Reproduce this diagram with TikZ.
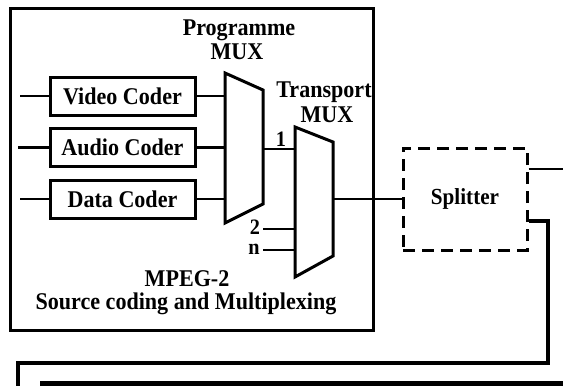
\documentclass[tikz,border=0pt]{standalone}
\usepackage{fontspec}
\setmainfont{Liberation Serif}
\newfontfamily\heavyserif{Liberation Serif}[UprightFont={* Bold},FakeStretch=0.92]
\begin{document}
\begin{tikzpicture}[x=1pt,y=-1pt,line join=miter,
  lbl/.style={font=\fontsize{24}{20}\selectfont\heavyserif,inner sep=0pt},
  num/.style={font=\fontsize{22}{20}\selectfont\heavyserif,inner sep=0pt},
  coder/.style={draw,line width=3pt,minimum width=145pt,minimum height=38pt,inner sep=0pt,font=\fontsize{24}{20}\selectfont\heavyserif},
  muxshape/.style={line width=3pt},
  wire/.style={line width=2.8pt},
  thinwire/.style={line width=1.8pt},
  heavy/.style={line width=4.4pt},
  splitbox/.style={draw,line width=3pt,dash pattern=on 12pt off 7pt,minimum width=124pt,minimum height=102pt,inner sep=0pt,font=\fontsize{23}{20}\selectfont\heavyserif}]
\useasboundingbox (0,0) rectangle (563,386);
% outer frame
\node[draw,line width=3pt,minimum width=363pt,minimum height=322pt,inner sep=0pt] (frame) at (191.5,169) {};
% coders
\node[coder] (video) at (122.5,96) {Video Coder};
\node[coder] (audio) at (122.5,147.5) {Audio Coder};
\node[coder] (data) at (122.5,199) {Data Coder};
\coordinate (vin) at (20,96);
\coordinate (ain) at (18,147.5);
\coordinate (din) at (20,199);
\draw[wire] (vin) -- (video.west);
\draw[wire] (ain) -- (audio.west);
\draw[thinwire] (din) -- (data.west);
% programme mux
\coordinate (pm1) at (225,73);
\coordinate (pm2) at (263,90);
\coordinate (pm3) at (263,204);
\coordinate (pm4) at (225,223);
\draw[muxshape] (pm1) -- (pm2) -- (pm3) -- (pm4) -- cycle;
\draw[wire] (video.east) -- (video.east -| pm1);
\draw[wire] (audio.east) -- (audio.east -| pm1);
\draw[thinwire] (data.east) -- (data.east -| pm1);
% transport mux
\coordinate (tm1) at (295,127);
\coordinate (tm2) at (333,142);
\coordinate (tm3) at (333,256);
\coordinate (tm4) at (295,277);
\draw[muxshape] (tm1) -- (tm2) -- (tm3) -- (tm4) -- cycle;
\coordinate (pmout) at (263,149);
\coordinate (in2) at (263,229);
\coordinate (in3) at (263,250);
\draw[wire] (pmout) -- (pmout -| tm1);
\draw[thinwire] (in2) -- (in2 -| tm1);
\draw[wire] (in3) -- (in3 -| tm1);
\node[num,anchor=base] (n1) at (281,146) {1};
\node[num,anchor=base] (n2) at (255,234) {2};
\node[num,anchor=base] (nn) at (254,254) {n};
% labels
\node[lbl,anchor=base] (pl1) at (239,35) {Programme};
\node[lbl,anchor=base] (pl2) at (237,59) {MUX};
\node[lbl,anchor=base] (tl1) at (324,97) {Transport};
\node[lbl,anchor=base] (tl2) at (327,122) {MUX};
\node[lbl,anchor=base] (ml1) at (187,286) {MPEG-2};
\node[lbl,anchor=base] (ml2) at (186,309) {Source coding and Multiplexing};
% splitter
\node[splitbox] (split) at (465,199) {Splitter};
\coordinate (tmout) at (333,199);
\draw[thinwire] (tmout) -- (split.west);
\coordinate (e1) at (563,169);
\draw[wire] (split.east |- e1) -- (e1);
\coordinate (s2) at (548,221);
\coordinate (c2) at (548,363);
\coordinate (c3) at (18,363);
\coordinate (c4) at (18,388);
\draw[heavy] (split.east |- s2) -- (s2) -- (c2) -- (c3) -- (c4);
\coordinate (b1) at (40,383.5);
\coordinate (b2) at (563,383.5);
\draw[heavy] (b1) -- (b2);
\end{tikzpicture}
\end{document}
